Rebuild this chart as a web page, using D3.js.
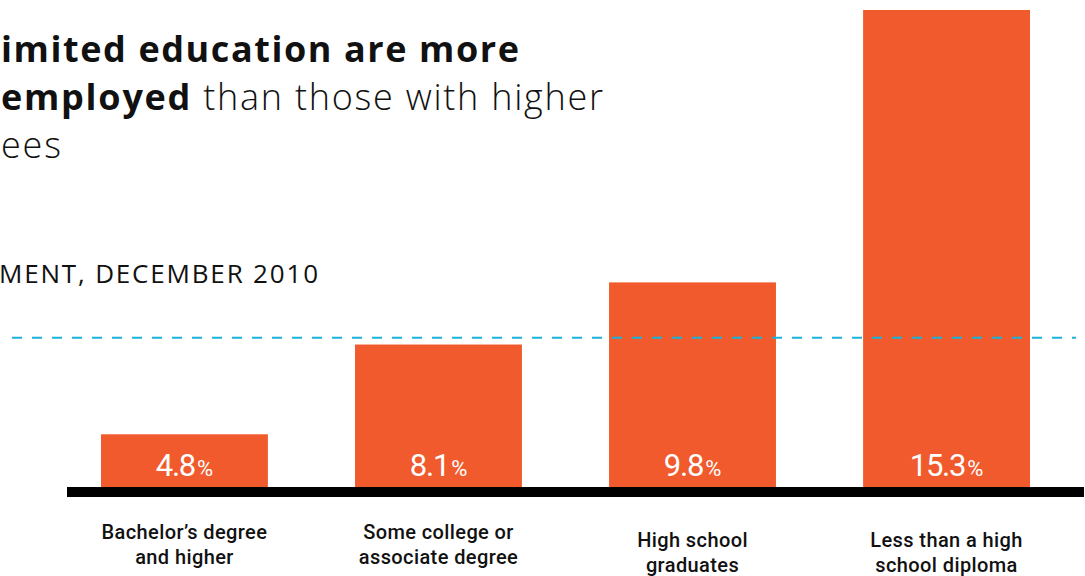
<!DOCTYPE html>
<html>
<head>
<meta charset="utf-8">
<script src="https://cdn.jsdelivr.net/npm/d3@7"></script>
<style>
  body { margin: 0; background: #fff; }
  svg { display: block; }
</style>
</head>
<body>
<div id="chart"></div>
<script>
// data
const categories = ["Bachelor’s degree and higher", "Some college or associate degree", "High school graduates", "Less than a high school diploma"];
const labelLines = [["Bachelor’s degree", "and higher"], ["Some college or", "associate degree"], ["High school", "graduates"], ["Less than a high", "school diploma"]];
const rates = [4.8, 8.1, 9.8, 15.3];
const overallRate = 8.3; // dashed reference line, where it sits on the bar scale
const titleLines = [
  [{ t: "imited education are more", b: true }],
  [{ t: "employed", b: true }, { t: " than those with higher", b: false }],
  [{ t: "ees", b: false }]
];
const subtitle = "MENT, DECEMBER 2010";

const width = 1085, height = 576;
const orange = "#f05a2c", cyan = "#19b4d9";

const svg = d3.select("#chart").append("svg")
  .attr("width", width)
  .attr("height", height)
  .attr("font-family", "Roboto, 'Noto Sans', sans-serif");

// x / y scales
const x = d3.scaleBand()
  .domain(categories)
  .range([101, 1030])
  .paddingInner(0.343)
  .paddingOuter(0);

// bars are not drawn to a linear scale in the original, closer to a power curve
const y = d3.scalePow()
  .exponent(1.9)
  .domain([0, d3.max(rates)])
  .range([487, 10]);

// title (cut off on the left in the source)
const titleWidths = [518, 602, 60];
const title = svg.append("g");
titleLines.forEach(function (parts, i) {
  let t = title.append("text")
    .attr("x", 1)
    .attr("y", 62 + i * 48)
    .attr("font-family", "'Open Sans', sans-serif")
    .attr("font-size", 36)
    .attr("fill", "#111");
  parts.forEach(function (p) {
    t.append("tspan")
      .attr("font-weight", p.b ? 700 : 300)
      .text(p.t);
  });
  t.attr("textLength", titleWidths[i]).attr("lengthAdjust", "spacing");
});

svg.append("text")
  .attr("x", -1)
  .attr("y", 283)
  .attr("font-family", "'Open Sans', sans-serif")
  .attr("font-size", 26)
  .attr("fill", "#111")
  .attr("textLength", 319)
  .attr("lengthAdjust", "spacing")
  .text(subtitle);

// bars
svg.selectAll(".bar")
  .data(rates)
  .enter().append("rect")
  .attr("class", "bar")
  .attr("x", function (d, i) { return x(categories[i]); })
  .attr("y", function (d) { return y(d); })
  .attr("width", x.bandwidth())
  .attr("height", function (d) { return y(0) - y(d); })
  .attr("fill", orange);

// baseline
svg.append("line")
  .attr("x1", x.range()[0] - 34)
  .attr("x2", x.range()[1] + 54)
  .attr("y1", y(0) + 5)
  .attr("y2", y(0) + 5)
  .attr("stroke", "#000")
  .attr("stroke-width", 10);

// overall rate dashed line
svg.append("line")
  .attr("x1", 12)
  .attr("x2", 1076)
  .attr("y1", y(overallRate))
  .attr("y2", y(overallRate))
  .attr("stroke", cyan)
  .attr("stroke-width", 2)
  .attr("stroke-dasharray", "10,10");

// value labels
let vl = svg.selectAll(".val")
  .data(rates)
  .enter().append("text")
  .attr("class", "val")
  .attr("x", function (d, i) { return x(categories[i]) + x.bandwidth() / 2; })
  .attr("y", y(0) - 11)
  .attr("text-anchor", "middle")
  .attr("fill", "#fff");
vl.append("tspan").attr("font-size", 31).attr("letter-spacing", -1.2).text(function (d) { return d3.format(".1f")(d); });
vl.append("tspan").attr("font-size", 22).attr("dx", 2).text("%");

// category labels
labelLines.forEach(function (lines, i) {
  let g = svg.append("text")
    .attr("x", x(categories[i]) + x.bandwidth() / 2)
    .attr("y", y(0) + 52 + (i < 2 ? 0 : 8))
    .attr("text-anchor", "middle")
    .attr("font-size", 20)
    .attr("font-weight", 500)
    .attr("letter-spacing", 0.4)
    .attr("fill", "#111");
  lines.forEach(function (l, j) {
    g.append("tspan")
      .attr("x", x(categories[i]) + x.bandwidth() / 2)
      .attr("dy", j === 0 ? 0 : 25)
      .text(l);
  });
});
</script>
</body>
</html>
